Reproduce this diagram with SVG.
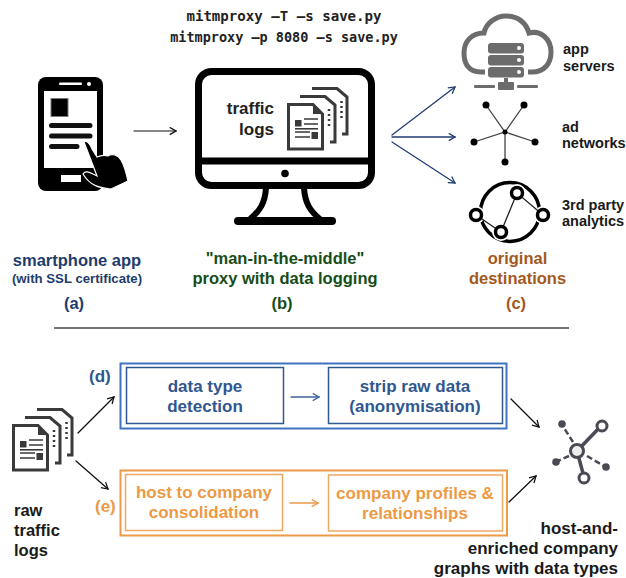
<svg xmlns="http://www.w3.org/2000/svg" xmlns:xlink="http://www.w3.org/1999/xlink" width="626" height="578" viewBox="0 0 626 578">
<style>
text{font-family:"Liberation Sans",Arial,sans-serif;font-weight:700;font-size:14.5px}
.m{text-anchor:middle}.e{text-anchor:end}
.code{font-family:"DejaVu Sans Mono",monospace;font-size:13.5px;fill:#222}
.k{fill:#1a1a1a}.navy{fill:#1f3d6b;font-size:16.5px}.green{fill:#174d17;font-size:16.5px}.brown{fill:#a5581c;font-size:16.5px}
.blue{fill:#2f5790;font-size:17px}.or{fill:#ec9a45;font-size:17px}
.c{fill:none;stroke-linecap:round;stroke-linejoin:round}
</style>
<defs>
<marker id="ak" viewBox="0 0 10 10" refX="9" refY="5" markerWidth="9" markerHeight="9" markerUnits="userSpaceOnUse" orient="auto"><path d="M2 1L9 5L2 9" fill="none" stroke="#111" stroke-width="1.4"/></marker>
<marker id="an" viewBox="0 0 10 10" refX="9" refY="5" markerWidth="9" markerHeight="9" markerUnits="userSpaceOnUse" orient="auto"><path d="M2 1L9 5L2 9" fill="none" stroke="#1f3d73" stroke-width="1.4"/></marker>
<marker id="ab" viewBox="0 0 10 10" refX="9" refY="5" markerWidth="9" markerHeight="9" markerUnits="userSpaceOnUse" orient="auto"><path d="M2 1L9 5L2 9" fill="none" stroke="#3f6498" stroke-width="1.4"/></marker>
<marker id="ao" viewBox="0 0 10 10" refX="9" refY="5" markerWidth="9" markerHeight="9" markerUnits="userSpaceOnUse" orient="auto"><path d="M2 1L9 5L2 9" fill="none" stroke="#ec9a45" stroke-width="1.4"/></marker>
<g id="stack">
<path d="M25 1.500H50L60 10V47H55" fill="none" stroke="#3a3a3a" stroke-width="3"/>
<path d="M13 9.500H38L48 18V55H43" fill="none" stroke="#3a3a3a" stroke-width="3"/>
<path d="M54.500 14v20M42 22v20" stroke="#3a3a3a" stroke-width="2.500" stroke-dasharray="2 3" fill="none"/>
<path d="M1.500 17.500H26L35.500 27V62H1.500Z" fill="#fff" stroke="#3a3a3a" stroke-width="3"/>
<path d="M26 18L35 27H26Z" fill="#3a3a3a"/>
<rect x="8" y="33" width="6.500" height="6.500" fill="#3a3a3a"/><path d="M17 32H31M17 37H31M8 45H23M8 50H23" stroke="#3a3a3a" stroke-width="1.600" fill="none"/><rect x="8" y="41" width="23" height="1.600" fill="#3a3a3a"/><rect x="24.500" y="45" width="6.500" height="7" fill="#3a3a3a"/>
</g>
</defs>

<g id="commands">
<text class="code m" x="284" y="21" style="font-size:14.100px">mitmproxy –T –s save.py</text>
<text class="code m" x="284" y="42">mitmproxy –p 8080 –s save.py</text>
</g>

<g id="phone">
<rect x="38" y="77" width="65" height="114" rx="8" fill="#000"/>
<rect x="44" y="91" width="53" height="77" fill="#fff"/>
<rect x="59" y="82.500" width="23" height="2.500" rx="1" fill="#fff"/><circle cx="89" cy="84" r="2" fill="#fff"/>
<rect x="61" y="175" width="20" height="7" fill="#fff"/>
<rect x="51" y="98.500" width="17" height="18" fill="#000" stroke="#777" stroke-width="1"/>
<path d="M51.500 125.500H90M51.500 136H90M51.500 146.500H77" stroke="#111" stroke-width="5" stroke-linecap="round"/>
<path d="M84 142C87 140 90 144 92 149L97 157C101 155 105 155 108 156C112 153 118 155 121 160C124 165 126 172 128 181L111 189C100 188 90 186 83 174C86 169 92 174 97 176Z" fill="#000" stroke="#fff" stroke-width="1.200"/>
</g>

<g id="proxy">
<rect x="198.500" y="71.500" width="173" height="114" rx="13" fill="#fff" stroke="#000" stroke-width="7"/>
<path d="M195 161H375" stroke="#000" stroke-width="7"/>
<circle cx="285" cy="173.500" r="3.800" fill="#000"/>
<path d="M266 188C265 203 260 211 250 219M304 188C305 203 310 211 320 219" fill="none" stroke="#000" stroke-width="6"/>
<path d="M238 221H332" stroke="#000" stroke-width="8" stroke-linecap="round"/>
<text class="e" x="274" y="114" style="font-size:17px" fill="#222">traffic</text>
<text class="e" x="274" y="135" style="font-size:17px" fill="#222">logs</text>
<use xlink:href="#stack" x="287" y="87"/>
</g>

<g id="app-servers">
<path d="M485 72H481C468 72 464 63 464 53C464 42 471 33 484 33C486 23 496 16 506 16C517 16 526 22 529 33C541 30 551 39 551 52C551 64 544 72 532 72H528" fill="none" stroke="#6c6c6c" stroke-width="5"/>
<g fill="#6c6c6c"><rect x="488" y="43" width="36" height="10.500" rx="3"/><rect x="488" y="55" width="36" height="10.500" rx="3"/><rect x="488" y="67" width="36" height="10.500" rx="3"/>
<rect x="498" y="82" width="16" height="8" rx="1"/><rect x="504" y="78" width="4" height="6"/><rect x="474" y="85" width="21" height="3" rx="1"/><rect x="517" y="85" width="21" height="3" rx="1"/></g>
<circle cx="519" cy="48" r="2" fill="#fff"/><circle cx="519" cy="60" r="2" fill="#fff"/><circle cx="519" cy="72" r="2" fill="#fff"/>
<text class="k" x="563" y="54">app</text><text class="k" x="563" y="71">servers</text>
</g>

<g id="ad-networks">
<path d="M486 105L505 132L524 105M474 142L505 132L535 142M505 132V162" stroke="#444" stroke-width="1.300" fill="none"/>
<g fill="#000"><circle cx="486" cy="105" r="3.500"/><circle cx="524" cy="105" r="3.500"/><circle cx="474" cy="142" r="3.500"/><circle cx="535" cy="142" r="3.500"/><circle cx="505" cy="162" r="3.500"/><circle cx="505" cy="132" r="2.500"/></g>
<text class="k" x="562" y="132">ad</text><text class="k" x="562" y="148">networks</text>
</g>

<g id="analytics">
<circle cx="510" cy="212" r="29.500" fill="none" stroke="#000" stroke-width="3.500"/>
<g fill="#fff"><circle cx="476" cy="215" r="9"/><circle cx="501" cy="232" r="9"/><circle cx="517" cy="193" r="9"/><circle cx="543" cy="215" r="9"/></g>
<path d="M476 215L501 232L517 193L543 215" fill="none" stroke="#222" stroke-width="1.300"/>
<g fill="#fff" stroke="#000" stroke-width="3.500"><circle cx="476" cy="215" r="5.500"/><circle cx="501" cy="232" r="5.500"/><circle cx="517" cy="193" r="5.500"/><circle cx="543" cy="215" r="5.500"/></g>
<text class="k" x="562" y="210">3rd party</text><text class="k" x="562" y="226">analytics</text>
</g>

<g id="captions-top">
<text class="navy m" x="77" y="266">smartphone app</text>
<text class="navy m" x="77" y="283" style="font-size:13.200px">(with SSL certificate)</text>
<text class="navy m" x="74" y="309">(a)</text>
<text class="green m" x="285" y="264">"man-in-the-middle"</text>
<text class="green m" x="285" y="284">proxy with data logging</text>
<text class="green m" x="282" y="309">(b)</text>
<text class="brown m" x="517.500" y="264">original</text>
<text class="brown m" x="517.500" y="284">destinations</text>
<text class="brown m" x="516" y="309">(c)</text>
</g>

<path id="divider" d="M54 328H569" stroke="#444" stroke-width="1.500"/>

<g id="raw-logs">
<use xlink:href="#stack" x="12" y="408"/>
<text class="k" x="14" y="516" style="font-size:16.500px">raw</text>
<text class="k" x="14" y="536" style="font-size:16.500px">traffic</text>
<text class="k" x="14" y="556" style="font-size:16.500px">logs</text>
</g>

<text id="label-d" x="89" y="382" fill="#2f5790" style="font-size:17px">(d)</text>
<text id="label-e" x="95" y="512" fill="#ec9a45" style="font-size:17px">(e)</text>

<g id="frame-d"><rect x="120.500" y="363.500" width="386" height="65" fill="none" stroke="#3f72c0" stroke-width="2"/></g>
<g id="frame-e"><rect x="120.500" y="470.500" width="386.500" height="65" fill="none" stroke="#ec9a45" stroke-width="2"/></g>

<g id="data-type-detection">
<rect x="126.500" y="367.500" width="157" height="56" fill="#fff" stroke="#2f5790" stroke-width="1.500"/>
<text class="blue m" x="205" y="392">data type</text><text class="blue m" x="205" y="412">detection</text>
</g>
<g id="strip-raw-data">
<rect x="328.500" y="367.500" width="174" height="56" fill="#fff" stroke="#2f5790" stroke-width="1.500"/>
<text class="blue m" x="415" y="392">strip raw data</text><text class="blue m" x="415" y="412">(anonymisation)</text>
</g>
<g id="host-to-company">
<rect x="125.500" y="474.500" width="157" height="56" fill="#fff" stroke="#efa860" stroke-width="1.500"/>
<text class="or m" x="204" y="498">host to company</text><text class="or m" x="204" y="518">consolidation</text>
</g>
<g id="company-profiles">
<rect x="328.500" y="475" width="174" height="56" fill="#fff" stroke="#efa860" stroke-width="1.500"/>
<text class="or m" x="415" y="499">company profiles &amp;</text><text class="or m" x="415" y="519">relationships</text>
</g>

<g id="graph">
<path d="M577 451L601 426M577 451L584 477" stroke="#4a4a55" stroke-width="3.500" fill="none"/>
<path d="M573 442L564 428M569 456L558 461M587 456L604 466" stroke="#4a4a55" stroke-width="2.500" stroke-dasharray="6 3" fill="none"/>
<circle cx="562" cy="424" r="3.800" fill="#4a4a55"/><circle cx="556" cy="462" r="3.800" fill="#4a4a55"/><circle cx="606" cy="467" r="3.800" fill="#4a4a55"/>
<g stroke="#4a4a55" stroke-width="3"><circle cx="577" cy="451" r="6.500" fill="#eee"/><circle cx="602" cy="426" r="5" fill="#fff"/><circle cx="584" cy="478" r="5" fill="#fff"/></g>
<text class="k e" x="618" y="534" style="font-size:17px">host-and-</text>
<text class="k e" x="618" y="554" style="font-size:17px">enriched company</text>
<text class="k e" x="618" y="574" style="font-size:17px">graphs with data types</text>
</g>

<g id="connectors" class="c">
<path d="M134 131H176" stroke="#111" stroke-width="1.200" marker-end="url(#ak)"/>
<path d="M392 135L455 87" stroke="#1f3d73" stroke-width="1.300" marker-end="url(#an)"/>
<path d="M392 137H455" stroke="#1f3d73" stroke-width="1.300" marker-end="url(#an)"/>
<path d="M392 142L455 183" stroke="#1f3d73" stroke-width="1.300" marker-end="url(#an)"/>
<path d="M78 433L114 397" stroke="#111" stroke-width="1.300" marker-end="url(#ak)"/>
<path d="M76 461L108 489" stroke="#111" stroke-width="1.300" marker-end="url(#ak)"/>
<path d="M291 397H319" stroke="#3f6498" stroke-width="1.300" marker-end="url(#ab)"/>
<path d="M290 503H318" stroke="#ec9a45" stroke-width="1.300" marker-end="url(#ao)"/>
<path d="M511 399L539 427" stroke="#111" stroke-width="1.300" marker-end="url(#ak)"/>
<path d="M509 502L536 476" stroke="#111" stroke-width="1.300" marker-end="url(#ak)"/>
</g>
</svg>
